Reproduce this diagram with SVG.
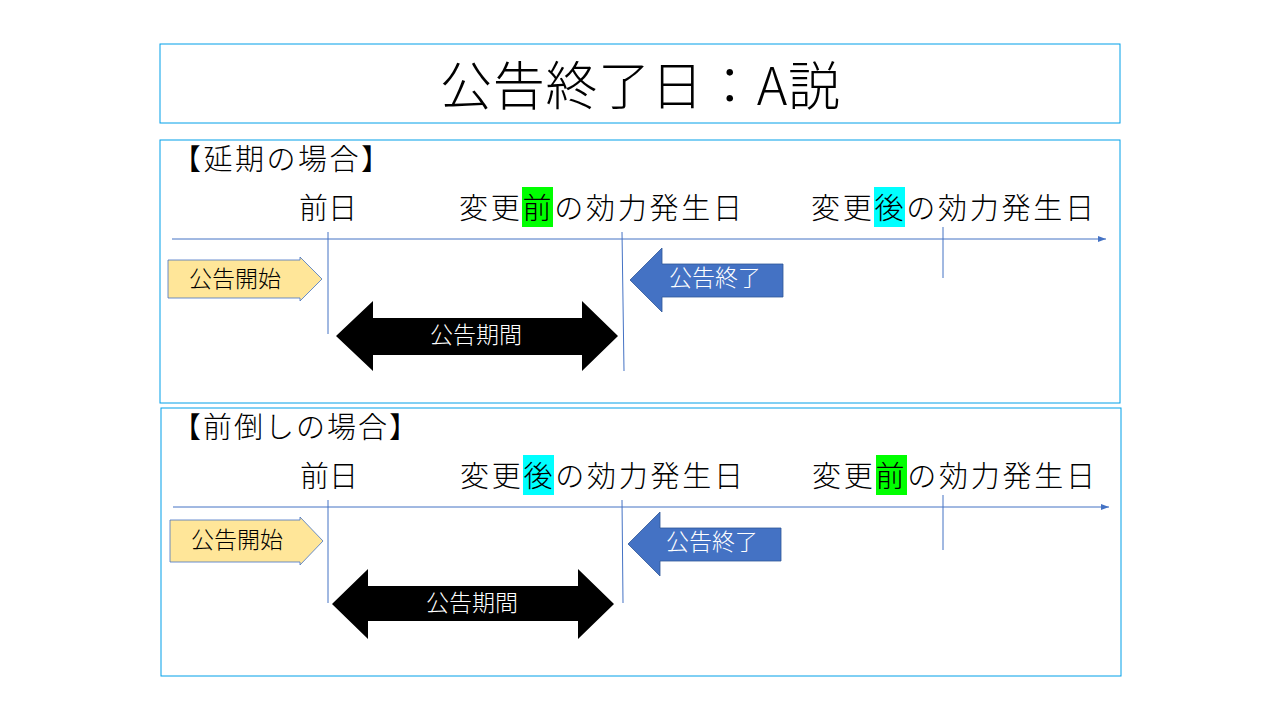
<svg xmlns="http://www.w3.org/2000/svg" width="1280" height="720" viewBox="0 0 1280 720">
<style>
.box{fill:#fff;stroke:#00a0e9;stroke-width:1}
text{font-family:"Noto Sans CJK JP","Noto Sans CJK SC",sans-serif;font-weight:300}
.h{font-size:29px;fill:#000}
.d{font-size:29px;fill:#000}
.l{font-size:23px;text-anchor:middle;dominant-baseline:central}
.ln{stroke:#4472C4;stroke-width:1;fill:none}
</style>
<defs><marker id="ar" markerWidth="8" markerHeight="6" refX="8" refY="3" orient="auto" markerUnits="userSpaceOnUse"><path d="M0,0L8,3L0,6z" fill="#4472C4"/></marker></defs>
<rect width="1280" height="720" fill="#fff"/>
<g id="title"><rect class="box" x="160" y="44" width="960" height="79"/><text x="440" y="105" font-size="52" textLength="400">公告終了日：A説</text></g>
<g id="panel1">
<rect class="box" x="160" y="140" width="960" height="263"/>
<text class="h" x="172" y="170" textLength="218">【延期の場合】</text>
<text class="d" x="299" y="219">前日</text>
<rect x="522" y="187" width="31" height="40" fill="#00ff00"/>
<text class="d" x="459" y="219" textLength="283">変更前の効力発生日</text>
<rect x="874" y="187" width="31" height="40" fill="#00ffff"/>
<text class="d" x="811" y="219" textLength="283">変更後の効力発生日</text>
</g>
<g id="panel2">
<rect class="box" x="161" y="408" width="960" height="268"/>
<text class="h" x="172" y="438" textLength="246">【前倒しの場合】</text>
<text class="d" x="300" y="487">前日</text>
<rect x="523" y="455" width="31" height="40" fill="#00ffff"/>
<text class="d" x="460" y="487" textLength="283">変更後の効力発生日</text>
<rect x="876" y="455" width="31" height="40" fill="#00ff00"/>
<text class="d" x="812" y="487" textLength="283">変更前の効力発生日</text>
</g>
<g id="connectors">
<line class="ln" x1="172" y1="239" x2="1106" y2="239" marker-end="url(#ar)"/>
<line class="ln" x1="328" y1="232" x2="328" y2="334"/>
<line class="ln" x1="622" y1="232" x2="624" y2="371"/>
<line class="ln" x1="943" y1="227" x2="943" y2="278"/>
<line class="ln" x1="173" y1="507" x2="1109" y2="507" marker-end="url(#ar)"/>
<line class="ln" x1="328" y1="500" x2="328" y2="603"/>
<line class="ln" x1="622" y1="500" x2="623" y2="603"/>
<line class="ln" x1="943" y1="495" x2="943" y2="550"/>
</g>
<g id="start1"><path d="M168,260H300V257L322,279L300,301V298H168z" fill="#FFE699" stroke="#4472C4" stroke-width="0.8"/><text class="l" x="235" y="277">公告開始</text></g>
<g id="end1"><path d="M630,280L662,248V264H783V297H662V312z" fill="#4472C4" stroke="#2F5597" stroke-width="0.8"/><text class="l" x="715" y="276" fill="#fff">公告終了</text></g>
<g id="period1"><path d="M336,336L373,301V318H582V301L618,336L582,371V355H373V371z" fill="#000"/><text class="l" x="476" y="333" fill="#fff">公告期間</text></g>
<g id="start2"><path d="M170,520H300V517L323,541L300,565V562H170z" fill="#FFE699" stroke="#4472C4" stroke-width="0.8"/><text class="l" x="237" y="538">公告開始</text></g>
<g id="end2"><path d="M628,544L660,512V528H781V561H660V576z" fill="#4472C4" stroke="#2F5597" stroke-width="0.8"/><text class="l" x="712" y="540" fill="#fff">公告終了</text></g>
<g id="period2"><path d="M332,604L368,569V586H578V569L614,604L578,639V621H368V639z" fill="#000"/><text class="l" x="472" y="601" fill="#fff">公告期間</text></g>
</svg>
